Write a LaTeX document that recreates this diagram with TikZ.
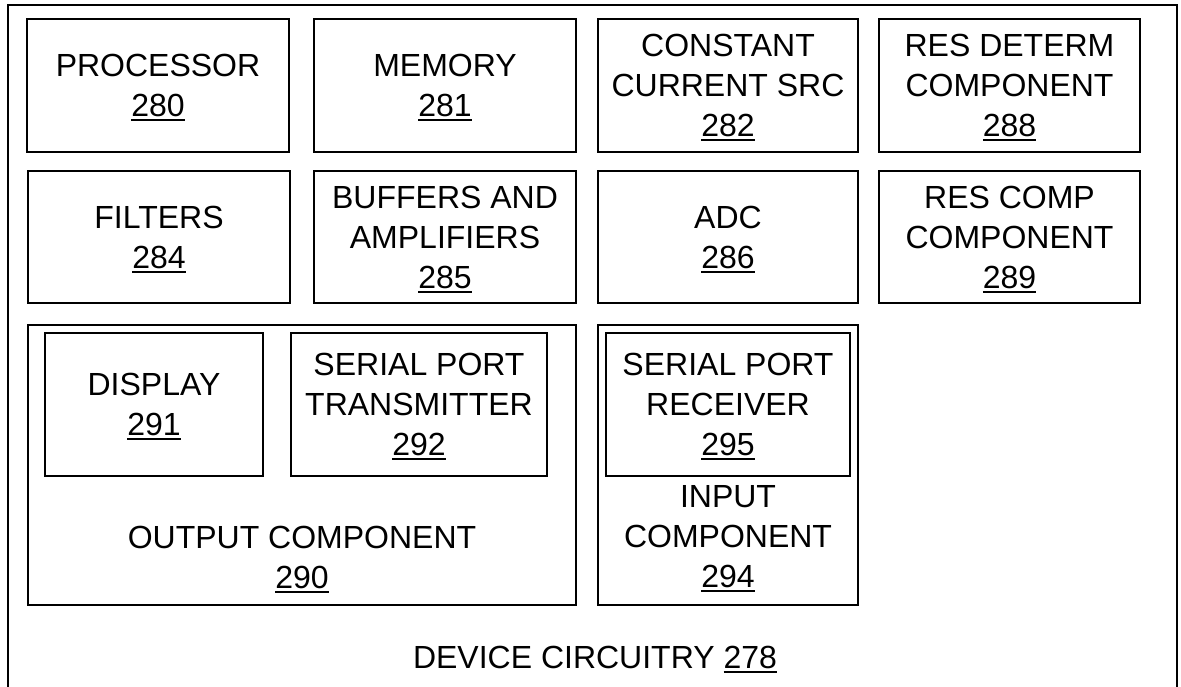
\documentclass[tikz,border=0pt]{standalone}
\usepackage{fontspec}
\setmainfont{Liberation Sans}

% underlined reference numeral; the rule takes no vertical space
\newcommand\refnum[1]{\setbox0=\hbox{#1}\rlap{\smash{\rule[-4.5pt]{\wd0}{2pt}}}\box0}

\begin{document}
\begin{tikzpicture}[x=1pt,y=-1pt,
  txt/.style={inner sep=0pt, align=center, font=\fontsize{32}{40}\selectfont},
  blk/.style={txt, draw=black, line width=2pt}]

% page frame
\fill[white] (0,0) rectangle (1181,686);
\clip (0,0) rectangle (1181,686);

% device circuitry enclosure (continues below the lower edge)
\draw[line width=2pt] (8,5) rectangle (1177,720);

% first row
\node[blk, minimum width=262, minimum height=133] (proc) at (158,85.5) {PROCESSOR\\\refnum{280}};
\node[blk, minimum width=262, minimum height=133] (mem) at (445,85.5) {MEMORY\\\refnum{281}};
\node[blk, minimum width=260, minimum height=133] (ccs) at (728,85.5) {CONSTANT\\CURRENT SRC\\\refnum{282}};
\node[blk, minimum width=261, minimum height=133] (rdc) at (1009.5,85.5) {RES DETERM\\COMPONENT\\\refnum{288}};

% second row
\node[blk, minimum width=262, minimum height=132] (filt) at (159,237) {FILTERS\\\refnum{284}};
\node[blk, minimum width=262, minimum height=132] (buf) at (445,237) {BUFFERS AND\\AMPLIFIERS\\\refnum{285}};
\node[blk, minimum width=260, minimum height=132] (adc) at (728,237) {ADC\\\refnum{286}};
\node[blk, minimum width=261, minimum height=132] (rcc) at (1009.5,237) {RES COMP\\COMPONENT\\\refnum{289}};

% output component with its parts
\node[blk, minimum width=548, minimum height=280] (out) at (302,465) {};
\node[blk, minimum width=218, minimum height=143] (disp) at (154,404.5) {DISPLAY\\\refnum{291}};
\node[blk, minimum width=256, minimum height=143] (spt) at (419,404.5) {SERIAL PORT\\TRANSMITTER\\\refnum{292}};
\node[txt] (outlbl) at (302,557) {OUTPUT COMPONENT\\\refnum{290}};

% input component with its part
\node[blk, minimum width=260, minimum height=280] (in) at (728,465) {};
\node[blk, minimum width=244, minimum height=143] (spr) at (728,404.5) {SERIAL PORT\\RECEIVER\\\refnum{295}};
\node[txt] (inlbl) at (728,537) {INPUT\\COMPONENT\\\refnum{294}};

% enclosure caption
\node[txt] (devlbl) at (595,657) {DEVICE CIRCUITRY \refnum{278}};
\end{tikzpicture}
\end{document}
